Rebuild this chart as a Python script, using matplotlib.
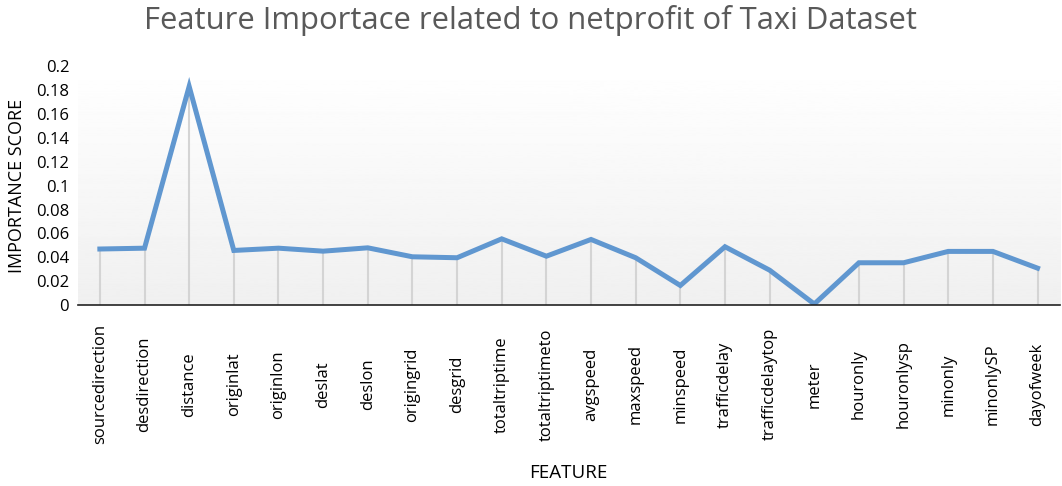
import numpy as np
import matplotlib
matplotlib.use("Agg")
import matplotlib.pyplot as plt

plt.rcParams["font.family"] = ["Open Sans", "DejaVu Sans"]

# data
features = ["sourcedirection", "desdirection", "distance", "originlat", "originlon",
            "deslat", "deslon", "origingrid", "desgrid", "totaltriptime",
            "totaltriptimeto", "avgspeed", "maxspeed", "minspeed", "trafficdelay",
            "trafficdelaytop", "meter", "houronly", "houronlysp", "minonly",
            "minonlySP", "dayofweek"]
scores = [0.047, 0.0477, 0.183, 0.0458, 0.0477,
          0.0452, 0.048, 0.0405, 0.0397, 0.0555,
          0.041, 0.055, 0.0397, 0.0165, 0.0489,
          0.0293, 0.001, 0.0355, 0.0355, 0.045,
          0.045, 0.031]
yticks = [0, 0.02, 0.04, 0.06, 0.08, 0.1, 0.12, 0.14, 0.16, 0.18, 0.2]

x = np.arange(len(features))

fig = plt.figure(figsize=(10.62, 4.86), dpi=100)
ax = fig.add_axes([0.073, 0.372, 0.925, 0.492])

# soft white (top) to grey (bottom) gradient behind the plot
grad = np.linspace(1.0, 0.94, 256).reshape(-1, 1)
ax.imshow(grad, cmap="gray", vmin=0, vmax=1, aspect="auto", origin="upper",
          extent=[-0.5, len(features) - 0.5, 0, 0.2], zorder=0)

ax.vlines(x, 0, scores, color="#d4d4d4", lw=1.5, zorder=1)
ax.plot(x, scores, color="#6097d0", lw=3.6, solid_joinstyle="miter", zorder=3)

ax.set_xlim(-0.5, len(features) - 0.5)
ax.set_ylim(0, 0.2)
ax.set_yticks(yticks)
ax.set_yticklabels([f"{t:g}" for t in yticks], fontsize=12)
ax.tick_params(axis="y", length=0, pad=6)
ax.set_xticks(x)
ax.set_xticklabels(features, rotation=90, fontsize=12, va="center")
ax.tick_params(axis="x", length=0, pad=57)

for s in ["top", "right", "left"]:
    ax.spines[s].set_visible(False)
ax.spines["bottom"].set_color("#222222")
ax.spines["bottom"].set_linewidth(1.2)
ax.spines["bottom"].set_zorder(4)

ax.set_ylabel("IMPORTANCE SCORE", fontsize=13)
ax.yaxis.set_label_coords(-0.052, 0.5)
ax.set_xlabel("FEATURE", fontsize=13.5)
ax.xaxis.set_label_coords(0.5, -0.665)
fig.suptitle("Feature Importace related to netprofit of Taxi Dataset",
             fontsize=22.3, color="#595959", y=0.99)

fig.savefig("out.png", dpi=100)
plt.close(fig)
